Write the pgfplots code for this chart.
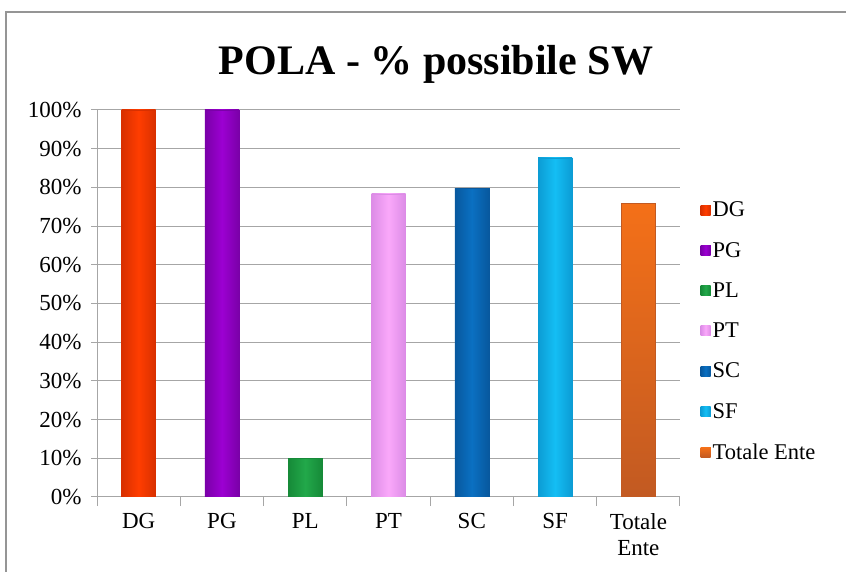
\documentclass[border=0pt]{standalone}
\usepackage{pgfplots}
\pgfplotsset{compat=1.18}
\usepackage{fontspec}
\setmainfont{Liberation Serif}
\definecolor{cDG}{HTML}{FF3D00}\definecolor{eDG}{HTML}{D83000}
\definecolor{cPG}{HTML}{9C00D2}\definecolor{ePG}{HTML}{7A00A8}
\definecolor{cPL}{HTML}{22A84A}\definecolor{ePL}{HTML}{168A38}
\definecolor{cPT}{HTML}{FAA8FA}\definecolor{ePT}{HTML}{DC8CE6}
\definecolor{cSC}{HTML}{0A70C2}\definecolor{eSC}{HTML}{08589E}
\definecolor{cSF}{HTML}{14BEF4}\definecolor{eSF}{HTML}{0C9CD4}
\definecolor{cTE}{HTML}{F47018}\definecolor{eTE}{HTML}{C25A22}
\definecolor{gridc}{HTML}{A6A6A6}
\begin{document}
\begin{tikzpicture}
\useasboundingbox (0,0) rectangle (846bp,572bp);
\draw[color=gridc!90!black, line width=1.6bp] (6bp,-20bp) -- (6bp,560bp) -- (880bp,560bp);
\node[font=\fontsize{42bp}{50bp}\selectfont\bfseries] at (436bp,508bp) {POLA - \% possibile SW};
\begin{axis}[
  at={(97bp,75bp)}, anchor=south west,
  scale only axis, width=583bp, height=387bp,
  ybar, bar width=34bp, bar shift=0pt,
  xmin=-0.5, xmax=6.5, ymin=0, ymax=100,
  xtick={0,...,6},
  xticklabels={DG,PG,PL,PT,SC,SF,{Totale\\Ente}},
  xticklabel style={align=center, font=\fontsize{23bp}{26bp}\selectfont, yshift=-7bp},
  minor xtick={-0.5,0.5,...,6.5},
  major x tick style={draw=none},
  minor tick length=9bp,
  ytick={0,10,...,100},
  yticklabel={\pgfmathprintnumber{\tick}\%},
  yticklabel style={font=\fontsize{23bp}{26bp}\selectfont, xshift=-6bp},
  /pgf/number format/assume math mode=true,
  major tick length=6bp,
  tick align=outside, tick pos=lower,
  tick style={color=gridc, line width=1bp},
  ymajorgrids, grid style={color=gridc, line width=1bp},
  axis x line*=bottom, axis y line*=left,
  axis line style={color=gridc, line width=1bp},
  legend style={at={(1.035,0.428)}, anchor=west, draw=none, fill=none,
    font=\fontsize{22.5bp}{26bp}\selectfont, row sep=20bp, inner sep=0pt},
  legend cell align=left,
  legend image code/.code={\fill[#1, draw=none] (0bp,-5bp) rectangle (10bp,5bp);},
]
\addplot[fill=cDG, draw=eDG, left color=eDG, right color=eDG, middle color=cDG] coordinates {(0,100)};
\addplot[fill=cPG, draw=ePG, left color=ePG, right color=ePG, middle color=cPG] coordinates {(1,100)};
\addplot[fill=cPL, draw=ePL, left color=ePL, right color=ePL, middle color=cPL] coordinates {(2,10)};
\addplot[fill=cPT, draw=ePT, left color=ePT, right color=ePT, middle color=cPT] coordinates {(3,78.3)};
\addplot[fill=cSC, draw=eSC, left color=eSC, right color=eSC, middle color=cSC] coordinates {(4,79.8)};
\addplot[fill=cSF, draw=eSF, left color=eSF, right color=eSF, middle color=cSF] coordinates {(5,87.6)};
\addplot[fill=cTE, draw=eTE, top color=cTE, bottom color=eTE] coordinates {(6,75.9)};
\legend{DG,PG,PL,PT,SC,SF,Totale Ente}
\end{axis}
\end{tikzpicture}
\end{document}
